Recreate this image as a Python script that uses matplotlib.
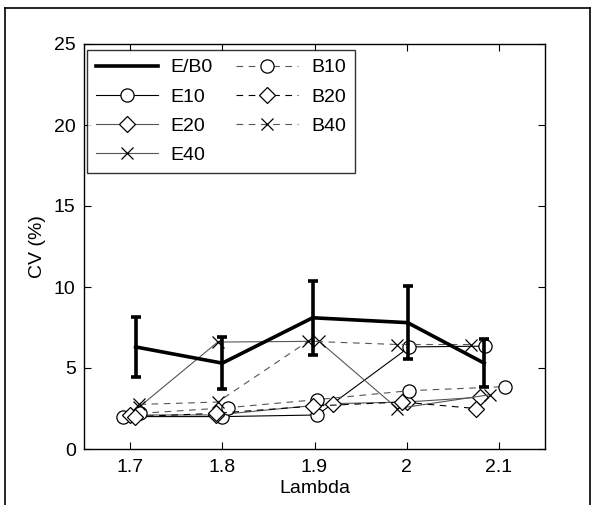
import matplotlib
matplotlib.use("Agg")
import matplotlib.pyplot as plt
from matplotlib.lines import Line2D

plt.rcParams['font.family'] = ['Liberation Sans', 'DejaVu Sans']

# Data (x positions are slightly offset per series, as in the reference)
eb0_x = [1.706, 1.800, 1.898, 2.001, 2.084]
eb0_y = [6.3, 5.3, 8.1, 7.8, 5.3]
eb0_err = [1.85, 1.6, 2.3, 2.25, 1.5]

e10_x = [1.692, 1.800, 1.903, 2.003, 2.085]
e10_y = [2.0, 2.0, 2.1, 6.3, 6.35]
e20_x = [1.700, 1.793, 1.920, 2.000, 2.080]
e20_y = [2.1, 2.1, 2.8, 2.9, 3.2]
e40_x = [1.710, 1.795, 1.905, 1.990, 2.090]
e40_y = [2.6, 6.6, 6.65, 2.5, 3.35]

b10_x = [1.711, 1.806, 1.903, 2.003, 2.107]
b10_y = [2.2, 2.55, 3.05, 3.6, 3.85]
b20_x = [1.705, 1.793, 1.898, 1.995, 2.075]
b20_y = [2.0, 2.2, 2.65, 2.9, 2.5]
b40_x = [1.710, 1.795, 1.893, 1.990, 2.070]
b40_y = [2.75, 2.9, 6.65, 6.45, 6.45]

xticks = [1.7, 1.8, 1.9, 2.0, 2.1]
xticklabels = ['1.7', '1.8', '1.9', '2', '2.1']
yticks = [0, 5, 10, 15, 20, 25]

fig = plt.figure(figsize=(5.97, 5.05), dpi=100)
ax = fig.add_axes([84/597, 1-449/505, (545-84)/597, (449-44)/505])

gray = '#555555'
ms_c = 9.5
ms_d = 8.5
ms_x = 9
lw = 0.8
fs = 14

ax.errorbar(eb0_x, eb0_y, yerr=eb0_err, color='black', lw=2.6, elinewidth=2.6,
            capsize=3.5, capthick=2.6, zorder=5)

h = {}
h['E/B0'] = Line2D([], [], color='black', lw=2.6)
h['E10'], = ax.plot(e10_x, e10_y, '-', color='black', lw=lw, marker='o', ms=ms_c,
                    mfc='white', mec='black', mew=0.9)
h['E20'], = ax.plot(e20_x, e20_y, '-', color=gray, lw=lw, marker='D', ms=ms_d,
                    mfc='white', mec='black', mew=0.9)
h['E40'], = ax.plot(e40_x, e40_y, '-', color=gray, lw=lw, marker='x', ms=ms_x,
                    mec='black', mew=0.9)
h['B10'], = ax.plot(b10_x, b10_y, '--', color=gray, lw=lw, marker='o', ms=ms_c,
                    mfc='white', mec='black', mew=0.9, dashes=(6, 5))
h['B20'], = ax.plot(b20_x, b20_y, '--', color='black', lw=lw, marker='D', ms=ms_d,
                    mfc='white', mec='black', mew=0.9, dashes=(6, 5))
h['B40'], = ax.plot(b40_x, b40_y, '--', color=gray, lw=lw, marker='x', ms=ms_x,
                    mec='black', mew=0.9, dashes=(6, 5))

ax.set_xlim(1.65, 2.15)
ax.set_ylim(0, 25)
ax.set_xticks(xticks)
ax.set_xticklabels(xticklabels)
ax.set_yticks(yticks)
ax.tick_params(direction='in', top=True, right=True, labelsize=fs, length=5, width=0.8)
ax.tick_params(axis='x', pad=7)
ax.tick_params(axis='y', pad=6)
for s in ax.spines.values():
    s.set_linewidth(1.0)
ax.set_xlabel('Lambda', fontsize=fs, labelpad=3)
ax.set_ylabel('CV (%)', fontsize=fs, labelpad=6)

order = ['E/B0', 'E10', 'E20', 'E40', 'B10', 'B20', 'B40']
leg = ax.legend([h[k] for k in order], order, loc='upper left', ncol=2,
                bbox_to_anchor=(3/461, 1 - 6/405),
                fontsize=fs, frameon=True, fancybox=False, edgecolor='black',
                handlelength=3.2, handletextpad=0.65, columnspacing=1.2,
                labelspacing=0.6, borderpad=0.45, borderaxespad=0.0)
leg.get_frame().set_linewidth(1.0)

# figure frame
fig.add_artist(Line2D([5/597, 5/597], [0, 1-8/505], transform=fig.transFigure, color='black', lw=1.2))
fig.add_artist(Line2D([5/597, 590/597], [1-8/505, 1-8/505], transform=fig.transFigure, color='black', lw=1.2))
fig.add_artist(Line2D([590/597, 590/597], [0, 1-8/505], transform=fig.transFigure, color='black', lw=1.2))

fig.savefig('out.png', dpi=100)
